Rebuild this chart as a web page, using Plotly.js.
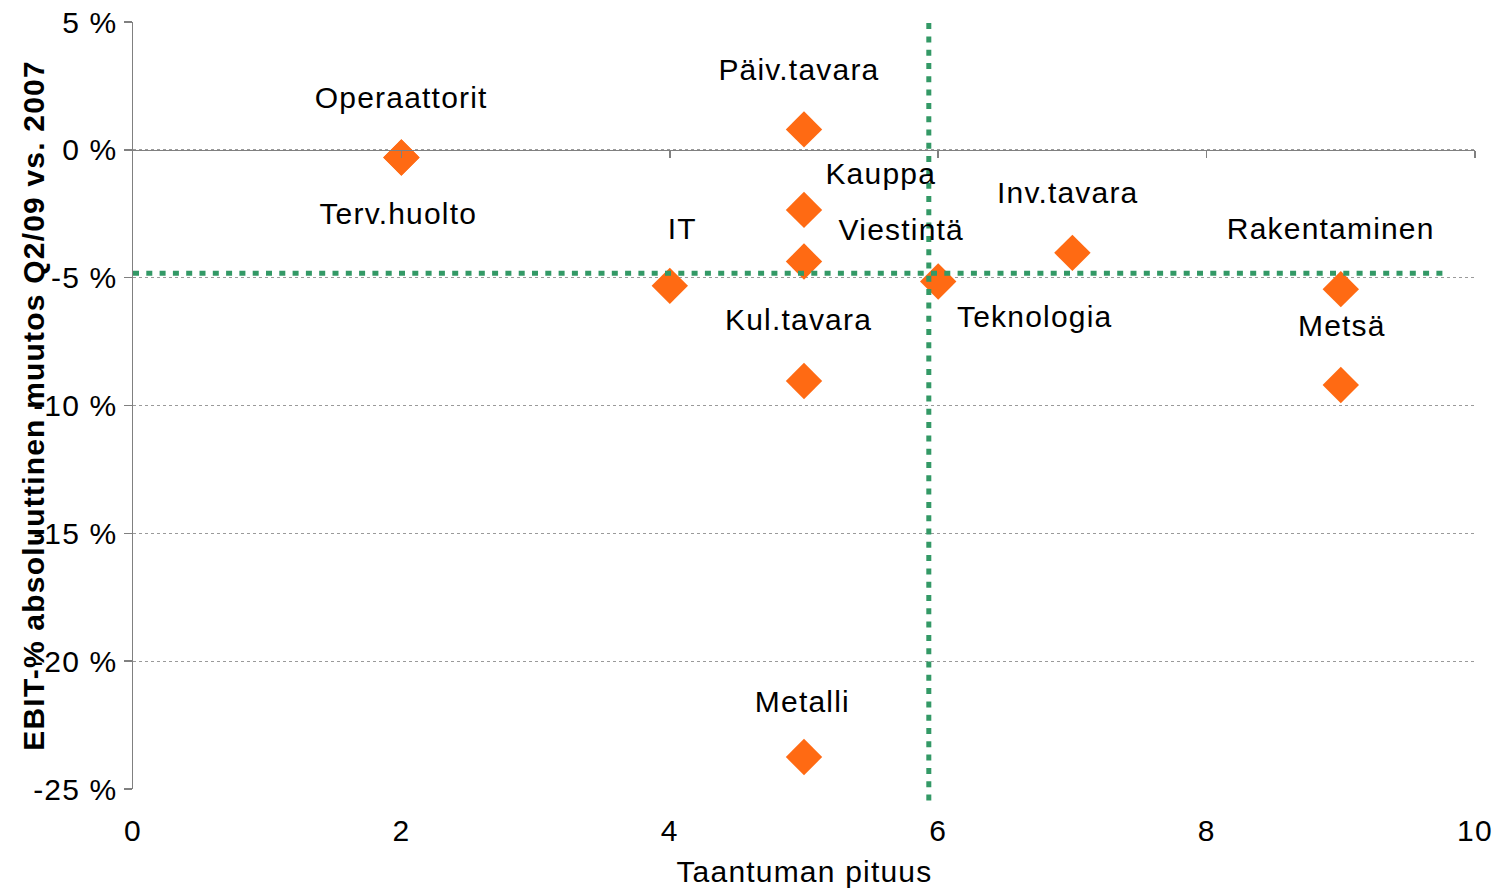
<!DOCTYPE html>
<html><head><meta charset="utf-8">
<script src="https://cdn.plot.ly/plotly-3.0.1.min.js"></script>
<style>html,body{margin:0;padding:0;background:#fff}#chart{width:1493px;height:890px}
#chart svg text{letter-spacing:1.2px}</style>
</head><body><div id="chart"></div>
<script>
// ---- data ----
const sectors = ["Operaattorit","Terv.huolto","Päiv.tavara","Kauppa","Viestintä","IT","Teknologia","Inv.tavara","Rakentaminen","Metsä","Kul.tavara","Metalli"];
const recessionLength = [2, 2, 5, 5, 5, 4, 6, 7, 9, 9, 5, 5];
const ebitChange = [-0.3, -0.3, 0.8, -2.35, -4.37, -5.32, -5.15, -4.03, -5.45, -9.2, -9.04, -23.75];
const avgLength = [5.93];
const avgChange = [-4.83];
const yTickVals = [5, 0, -5, -10, -15, -20, -25];
const yTickText = ["5 %", "0 %", "-5 %", "-10 %", "-15 %", "-20 %", "-25 %"];
const xTickVals = [0, 2, 4, 6, 8, 10];
const xTitle = "Taantuman pituus";
const yTitle = "EBIT-% absoluuttinen muutos Q2/09 vs. 2007";

// ---- label placement (pixels, styling only) ----
const labelShiftX = [0, -3, -5, 77, 97, 13, 97, -4, -10, 1, -6, -2];
const labelShiftY = [60, -56, 60, 36, 32, 57, -35, 60, 61, 60, 61, 56];

const FONT = "Liberation Sans, Arial, sans-serif";
const GREEN = "#339966";
const yRange = [-25, 5];
const xRange = [0, 10];

const traces = [
  {
    type: "scatter", mode: "markers",
    x: recessionLength, y: ebitChange, text: sectors,
    marker: {symbol: "diamond", size: 28, color: "#FF6A13", line: {width: 0}},
    hoverinfo: "text+x+y", showlegend: false
  },
  {
    type: "scatter", mode: "markers", x: [null], y: [null], xaxis: "x2",
    showlegend: false, hoverinfo: "skip"
  }
];

const annotations = sectors.map((s, i) => ({
  x: recessionLength[i], y: ebitChange[i], xref: "x", yref: "y",
  text: s, showarrow: false, xshift: labelShiftX[i], yshift: labelShiftY[i],
  font: {family: FONT, size: 30, color: "#000"}
}));
annotations.push({
  xref: "paper", yref: "paper", x: -0.0745, y: 0.5, textangle: -90,
  text: yTitle, showarrow: false, xanchor: "center", yanchor: "middle",
  font: {family: FONT, size: 30, color: "#000", weight: "bold"}
});
annotations.push({
  xref: "paper", yref: "paper", x: 0.5, y: -0.107,
  text: xTitle, showarrow: false, xanchor: "center", yanchor: "middle",
  font: {family: FONT, size: 30, color: "#000"}
});

const layout = {
  width: 1493, height: 890,
  margin: {l: 133, r: 18, t: 22, b: 101},
  paper_bgcolor: "#fff", plot_bgcolor: "#fff",
  showlegend: false,
  xaxis: {
    range: xRange, tickvals: xTickVals, showgrid: false, zeroline: false,
    showline: false, ticks: "outside", ticklen: 15, tickcolor: "rgba(0,0,0,0)",
    tickfont: {family: FONT, size: 30, color: "#000"}
  },
  xaxis2: {
    range: xRange, overlaying: "x", anchor: "free",
    position: (0 - yRange[0]) / (yRange[1] - yRange[0]),
    tickvals: xTickVals.filter(v => v > 0), showticklabels: false,
    showgrid: false, zeroline: false,
    showline: true, linecolor: "#808080", linewidth: 1.5,
    ticks: "outside", ticklen: 7, tickcolor: "#808080", tickwidth: 1.5
  },
  yaxis: {
    range: yRange, tickvals: yTickVals, ticktext: yTickText,
    showgrid: true, gridcolor: "#9a9a9a", griddash: "dot", gridwidth: 1,
    zeroline: false, showline: true, linecolor: "#808080", linewidth: 1.5,
    ticks: "outside", ticklen: 8, tickcolor: "#808080", tickwidth: 1.5,
    tickfont: {family: FONT, size: 30, color: "#000"}
  },
  shapes: [
    {type: "line", xref: "x", yref: "y", x0: 0, x1: 9.78, y0: avgChange[0], y1: avgChange[0],
     line: {color: GREEN, width: 5, dash: "6px,7.3px"}, layer: "above"},
    {type: "line", xref: "x", yref: "paper", x0: avgLength[0], x1: avgLength[0], y0: -0.015, y1: 1,
     line: {color: GREEN, width: 5, dash: "6px,7.3px"}, layer: "above"}
  ],
  annotations: annotations
};

Plotly.newPlot("chart", traces, layout, {displayModeBar: false, staticPlot: true});
</script>
</body></html>
